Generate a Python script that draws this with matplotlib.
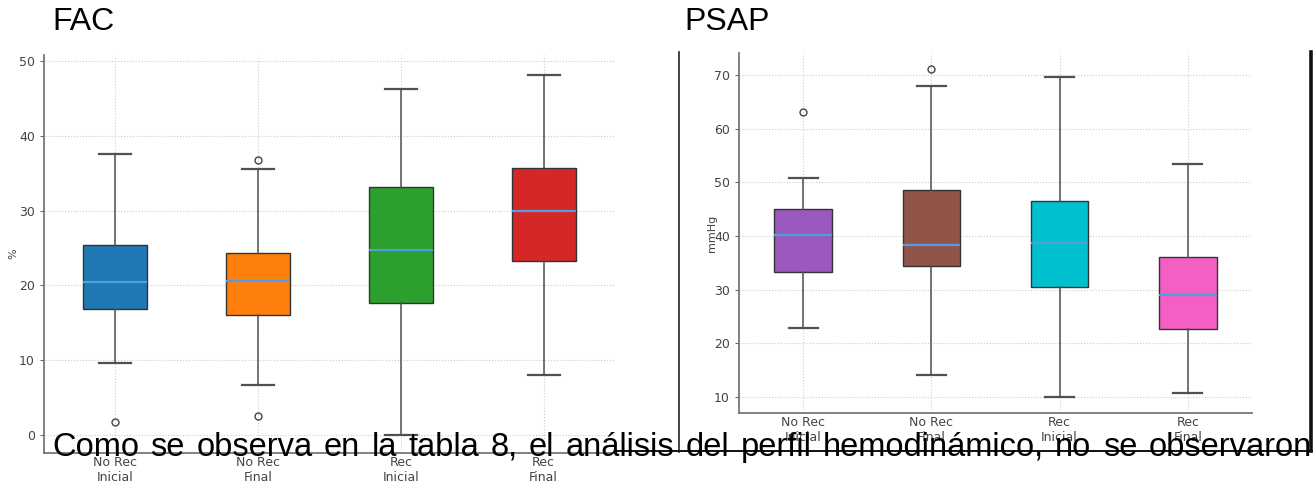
import matplotlib
matplotlib.use('Agg')
import matplotlib.pyplot as plt
from matplotlib.lines import Line2D

# FAC (%) box statistics
fac_labels = ['No Rec\nInicial', 'No Rec\nFinal', 'Rec\nInicial', 'Rec\nFinal']
fac_whislo = [9.6, 6.7, 0.0, 8.0]
fac_q1 = [16.8, 16.0, 17.6, 23.2]
fac_med = [20.5, 20.6, 24.8, 29.9]
fac_q3 = [25.4, 24.3, 33.2, 35.7]
fac_whishi = [37.6, 35.6, 46.3, 48.1]
fac_fliers = [[1.8], [2.6, 36.7], [], []]
fac_colors = ['#1f77b4', '#ff7f0e', '#2ca02c', '#d62728']

# PSAP (mmHg) box statistics
psap_labels = ['No Rec\nInicial', 'No Rec\nFinal', 'Rec\nInicial', 'Rec\nFinal']
psap_whislo = [22.9, 14.0, 9.9, 10.8]
psap_q1 = [33.2, 34.4, 30.5, 22.6]
psap_med = [40.2, 38.3, 38.7, 29.0]
psap_q3 = [45.1, 48.6, 46.6, 36.0]
psap_whishi = [50.8, 68.0, 69.6, 53.4]
psap_fliers = [[63.1], [71.1], [], []]
psap_colors = ['#9b59c0', '#925349', '#00c0d0', '#f45fc4']

body_text = 'Como se observa en la tabla 8, el análisis del perfil hemodinámico, no se observaron'

W, H = 1313, 486
fig = plt.figure(figsize=(W / 100, H / 100), dpi=100)


def px(x, y):
    # pixel coords (from top-left) -> figure fraction
    return x / W, 1 - y / H


def make_stats(labels, lo, q1, med, q3, hi, fl):
    out = []
    for i in range(len(labels)):
        out.append({'label': labels[i], 'whislo': lo[i], 'q1': q1[i], 'med': med[i],
                    'q3': q3[i], 'whishi': hi[i], 'fliers': fl[i]})
    return out


def draw_box(ax, stats, colors, ylabel):
    bp = ax.bxp(stats, widths=0.45, patch_artist=True,
                boxprops=dict(edgecolor='#333333', linewidth=1.0),
                medianprops=dict(color='#4f9fe0', linewidth=1.6),
                whiskerprops=dict(color='#505050', linewidth=1.1),
                capprops=dict(color='#505050', linewidth=1.6),
                flierprops=dict(marker='o', markerfacecolor='none', markeredgecolor='#444444',
                                markersize=5, markeredgewidth=1.0))
    for patch, c in zip(bp['boxes'], colors):
        patch.set_facecolor(c)
    ax.set_xlim(0.5, 4.5)
    ax.grid(True, linestyle=':', color='#cccccc', linewidth=0.8)
    ax.set_axisbelow(True)
    for s in ['top', 'right']:
        ax.spines[s].set_visible(False)
    for s in ['left', 'bottom']:
        ax.spines[s].set_color('#777777')
        ax.spines[s].set_linewidth(1.3)
    ax.tick_params(colors='#666666', labelcolor='#444444', labelsize=9, length=3)
    ax.tick_params(axis='x', length=0, pad=2)
    ax.set_ylabel(ylabel, fontsize=8, color='#444444')


# left chart
x0, y0 = px(44, 453)
x1, y1 = px(615, 55)
ax1 = fig.add_axes([x0, y0, x1 - x0, y1 - y0])
draw_box(ax1, make_stats(fac_labels, fac_whislo, fac_q1, fac_med, fac_q3, fac_whishi, fac_fliers),
         fac_colors, '%')
ax1.set_ylim(-2.4, 50.8)
ax1.set_yticks([0, 10, 20, 30, 40, 50])
ax1.yaxis.set_label_coords(-0.045, 0.5)

# right chart
x0, y0 = px(739, 413)
x1, y1 = px(1252, 53)
ax2 = fig.add_axes([x0, y0, x1 - x0, y1 - y0])
draw_box(ax2, make_stats(psap_labels, psap_whislo, psap_q1, psap_med, psap_q3, psap_whishi, psap_fliers),
         psap_colors, 'mmHg')
ax2.set_ylim(7.0, 74.1)
ax2.set_yticks([10, 20, 30, 40, 50, 60, 70])
ax2.yaxis.set_label_coords(-0.043, 0.5)

# frame lines of the pasted picture
fig.add_artist(Line2D([679 / W, 679 / W], [1 - 52 / H, 1 - 452 / H], color='#222222', lw=1.2))
fig.add_artist(Line2D([1311 / W, 1311 / W], [1 - 52 / H, 1 - 451 / H], color='#111111', lw=2.6))
fig.add_artist(Line2D([615 / W, 1313 / W], [1 - 451 / H, 1 - 451 / H], color='#111111', lw=1.4))

# titles
fig.text(*px(52, 30), 'FAC', fontsize=23, family='Liberation Sans', va='baseline')
fig.text(*px(684, 30), 'PSAP', fontsize=23, family='Liberation Sans', va='baseline')

# justified paragraph line across the figure
words = body_text.split(' ')
fig.canvas.draw()
r = fig.canvas.get_renderer()
objs = []
widths = []
for w in words:
    t = fig.text(0, 0, w, fontsize=23.5, family='Liberation Sans', va='baseline')
    objs.append(t)
    widths.append(t.get_window_extent(r).width)
left, right = 52, 1312
gap = (right - left - sum(widths)) / (len(words) - 1)
x = left
for t, wd in zip(objs, widths):
    t.set_position(px(x, 456))
    x += wd + gap

fig.savefig('out.png', dpi=100)
